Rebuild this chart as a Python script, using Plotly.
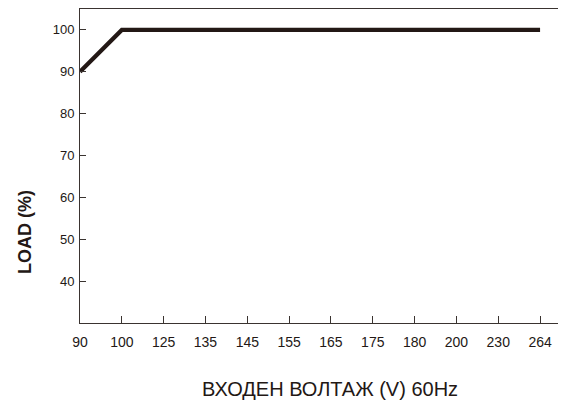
import plotly.graph_objects as go

voltage_labels = ["90", "100", "125", "135", "145", "155", "165", "175", "180", "200", "230", "264"]
line_voltage = ["90", "100", "264"]
line_load = [90, 100, 100]
y_ticks = [40, 50, 60, 70, 80, 90, 100]

ink = "#231815"
axis_col = "#3a3330"

fig = go.Figure()
fig.add_trace(go.Scatter(
    x=line_voltage, y=line_load, mode="lines",
    line=dict(color=ink, width=4.2),
    showlegend=False, hoverinfo="skip",
))

fig.update_layout(
    width=566, height=407,
    margin=dict(l=72, r=8, t=1, b=92),
    paper_bgcolor="white", plot_bgcolor="white",
    font=dict(family="Liberation Sans, Arial, sans-serif", size=13, color=ink),
    xaxis=dict(
        type="category", categoryorder="array", categoryarray=voltage_labels,
        tickvals=voltage_labels, ticktext=voltage_labels,
        range=[0, 11.62],
        showline=True, linecolor=axis_col, linewidth=1, mirror=True,
        ticks="inside", ticklen=7, tickcolor=axis_col, tickwidth=1,
        showgrid=False, zeroline=False,
        tickfont=dict(family="Liberation Sans, Arial, sans-serif", size=14, color=ink),
        ticklabelstandoff=6,
    ),
    yaxis=dict(
        range=[30, 105], tickvals=y_ticks,
        showline=True, linecolor=axis_col, linewidth=1, mirror="ticks",
        ticks="inside", ticklen=6, tickcolor=axis_col, tickwidth=1,
        showgrid=False, zeroline=False,
        ticklabelstandoff=2,
    ),
    annotations=[
        dict(text="ВХОДЕН ВОЛТАЖ (V) 60Hz", xref="paper", yref="paper",
             x=0.514, y=-0.211, xanchor="center", yanchor="middle",
             showarrow=False, font=dict(size=20, color=ink)),
        dict(text="<b>LOAD (%)</b>", xref="paper", yref="paper",
             x=-0.113, y=0.29, xanchor="center", yanchor="middle",
             textangle=-90, showarrow=False, font=dict(size=18, color=ink)),
    ],
)

fig.write_html("out.html")
